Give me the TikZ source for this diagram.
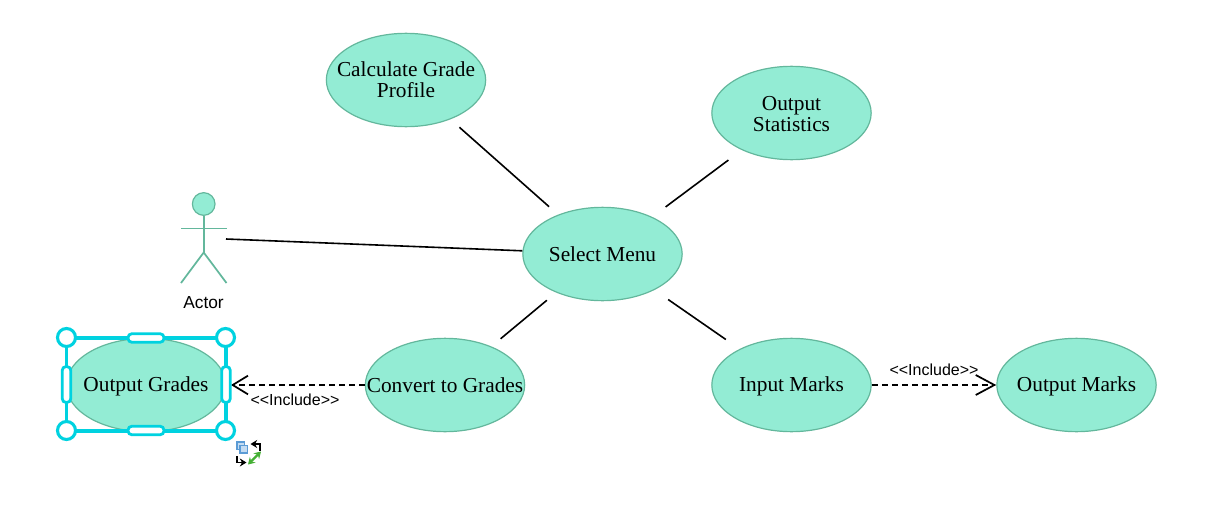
\documentclass[tikz,border=0pt]{standalone}
\usepackage{fontspec}
\setmainfont{Liberation Serif}
\newfontfamily\lsans{Liberation Sans}
\usetikzlibrary{shapes.geometric,arrows.meta}
\definecolor{ucfill}{HTML}{93ECD4}
\definecolor{ucline}{HTML}{63B79C}
\definecolor{selcol}{HTML}{00D2E0}
\definecolor{icoblue}{HTML}{5B9BD5}
\definecolor{icobluefill}{HTML}{C4DCF2}
\definecolor{icogreen}{HTML}{45B035}
\tikzset{
  every label/.style={align=center,font=\fontsize{16}{15.75}\selectfont,inner sep=0pt,text=black},
  uc/.style={ellipse,draw=ucline,fill=ucfill,line width=0.9pt,inner sep=0pt,minimum width=119.5pt,minimum height=70pt},
  assoc/.style={draw=black,line width=1.2pt,shorten <=9pt,shorten >=9pt},
  assocb/.style={draw=black,line width=1.2pt,shorten <=12.5pt,shorten >=12.5pt},
  assocplain/.style={draw=black,line width=1.2pt},
  incl/.style={draw=black,line width=1.1pt,dash pattern=on 4.5pt off 3pt},
  inclshort/.style={incl,-{Straight Barb[length=11.5pt,width=14pt,line width=1.3pt]}},
  incllong/.style={incl,-{Straight Barb[length=14pt,width=15pt,line width=1.3pt]}},
  stick/.style={draw=ucline,line width=1.3pt},
  incllabel/.style={font=\lsans\fontsize{12}{14}\selectfont,inner sep=0pt},
  actorlabel/.style={font=\lsans\fontsize{13}{15}\selectfont,inner sep=0pt},
  selframe/.style={draw=selcol,line width=2.3pt},
  selcorner/.style={circle,draw=selcol,fill=white,line width=2.3pt,minimum size=13.5pt,inner sep=0pt},
  selbar/.style={rectangle,rounded corners=3pt,draw=selcol,fill=white,line width=2.1pt,inner sep=0pt},
  selbarh/.style={selbar,minimum width=27pt,minimum height=6.5pt},
  selbarv/.style={selbar,minimum width=6.5pt,minimum height=27pt},
  ico/.style={draw=black,line width=1.1pt,-{Stealth[length=5pt,width=6pt]}},
  icog/.style={draw=icogreen,line width=1.6pt,{Stealth[length=5pt,width=6pt]}-{Stealth[length=5pt,width=6pt]}},
  icob/.style={draw=icoblue,fill=icobluefill,line width=0.8pt}
}
\begin{document}
\begin{tikzpicture}[x=0.75pt,y=-0.75pt]
\useasboundingbox (0,0) rectangle (1207,514);
% use cases
\node[uc,label={center:{Calculate Grade\\Profile}}] (calc) at (406,80) {};
\node[uc,label={[yshift=-0.7pt]center:{Output\\Statistics}}] (stats) at (791.5,113) {};
\node[uc,label={center:{Select Menu}}] (select) at (602.5,254) {};
\node[uc,label={center:{Convert to Grades}}] (conv) at (445,385) {};
\node[uc,label={[yshift=-1pt]center:{Input Marks}}] (input) at (791.5,385) {};
\node[uc,label={[yshift=-1.3pt]center:{Output Marks}}] (omarks) at (1076.5,385) {};
\node[uc,label={[yshift=-1.3pt]center:{Output Grades}}] (ogrades) at (146,385) {};
% actor
\node[circle,draw=ucline,fill=ucfill,line width=0.9pt,minimum size=17pt,inner sep=0pt] (head) at (203.7,204) {};
\coordinate (hip) at (203.7,252.5);
\coordinate (armL) at (181,228.5);
\coordinate (armR) at (226.5,228.5);
\coordinate (legL) at (181,283);
\coordinate (legR) at (226.5,283);
\draw[stick] (head.south) -- (hip);
\draw[stick] (armL) -- (armR);
\draw[stick] (legL) -- (hip) -- (legR);
\node[actorlabel] (actorname) at (203.5,302.5) {Actor};
\coordinate (actorhand) at (226,239);
% connectors
\draw[assocplain] (actorhand) -- (select);
\draw[assoc] (calc) -- (select);
\draw[assocb] (stats) -- (select);
\draw[assoc] (conv) -- (select);
\draw[assocb] (input) -- (select);
\coordinate (ogtip) at (231,385);
\draw[inclshort] (conv.west) -- (ogtip);
\draw[incllong] (input.east) -- (omarks.west);
\node[incllabel] (lab1) at (295,400) {<<Include>>};
\node[incllabel] (lab2) at (934,370) {<<Include>>};
% selection frame
\draw[selframe] (66.5,338) rectangle (226,431);
\node[selbarh] (st) at (146,338) {};
\node[selbarh] (sb) at (146,430.5) {};
\node[selbarv] (sl) at (66.5,384.5) {};
\node[selbarv] (sr) at (226,384.5) {};
\node[selcorner] (c1) at (66.5,337.5) {};
\node[selcorner] (c2) at (225.5,337.5) {};
\node[selcorner] (c3) at (66.5,430.5) {};
\node[selcorner] (c4) at (225.5,430.5) {};
% selection tool icons
\draw[icob] (237,442) rectangle (244.5,449.5);
\draw[icob] (240,445.5) rectangle (247.5,453);
\draw[ico] (260,451) -- (260,444) -- (250.5,444);
\draw[ico] (237,456) -- (237,462.5) -- (246.5,462.5);
\draw[icog] (248,464.5) -- (261,451.5);
\end{tikzpicture}
\end{document}
